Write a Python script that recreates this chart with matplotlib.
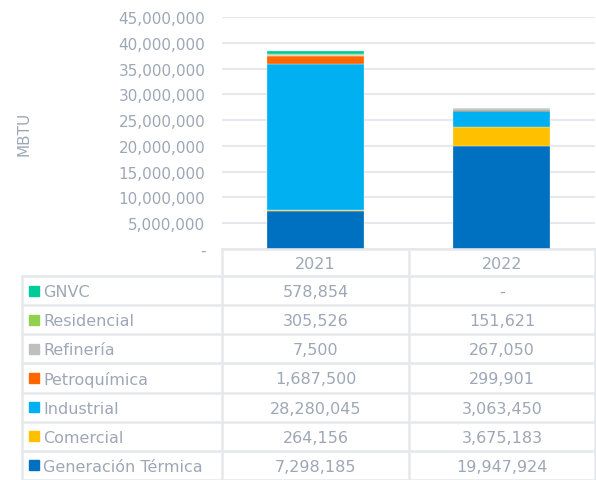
import matplotlib.pyplot as plt
from matplotlib.patches import Rectangle

years = ['2021', '2022']
sectors = ['Generación Térmica', 'Comercial', 'Industrial', 'Petroquímica',
           'Refinería', 'Residencial', 'GNVC']
values = {
    'Generación Térmica': [7298185, 19947924],
    'Comercial': [264156, 3675183],
    'Industrial': [28280045, 3063450],
    'Petroquímica': [1687500, 299901],
    'Refinería': [7500, 267050],
    'Residencial': [305526, 151621],
    'GNVC': [578854, 0],
}
colors = {
    'Generación Térmica': '#0070C0',
    'Comercial': '#FFC000',
    'Industrial': '#00B0F0',
    'Petroquímica': '#FF6600',
    'Refinería': '#BFBFBF',
    'Residencial': '#92D050',
    'GNVC': '#00CC99',
}

W, H = 596, 481
text_col = '#9EA7B6'
grid_col = '#E6E8EC'
fs = 11
plt.rcParams['font.family'] = ['DejaVu Sans']

fig = plt.figure(figsize=(W / 100, H / 100), dpi=100)

# chart area in pixel coordinates
x0, x1, ytop, ybot = 222, 595, 18, 250
ax = fig.add_axes([x0 / W, 1 - ybot / H, (x1 - x0) / W, (ybot - ytop) / H])
ax.set_xlim(-0.5, 1.5)
ax.set_ylim(0, 45000000)

bottoms = [0, 0]
for s in sectors:
    ax.bar(range(len(years)), values[s], bottom=bottoms, width=0.52,
           color=colors[s], edgecolor='white', linewidth=0.2, zorder=3)
    bottoms = [b + v for b, v in zip(bottoms, values[s])]

ticks = list(range(0, 45000001, 5000000))
ax.set_yticks(ticks)
ax.set_yticklabels(['-'] + [f'{t:,}' for t in ticks[1:]])
ax.tick_params(axis='y', length=0, pad=12, labelsize=fs, labelcolor=text_col)
ax.set_xticks([])
ax.yaxis.grid(True, color=grid_col, linewidth=1.5, zorder=0)
for sp in ax.spines.values():
    sp.set_visible(False)
ax.set_ylabel('MBTU', color=text_col, fontsize=fs)
ax.yaxis.set_label_coords((32 - x0) / (x1 - x0), 0.5)

# data table overlay
tb = fig.add_axes([0, 0, 1, 1])
tb.set_xlim(0, W)
tb.set_ylim(H, 0)
tb.axis('off')

col_x = [22, 222, 409, 595]
header_top, header_bot = 250, 277
row_h = (H - header_bot) / len(sectors)
lw = 1.8
tfs = 11.5

# header
tb.plot([col_x[1], col_x[3]], [header_top, header_top], color=grid_col, lw=lw)
for cx in col_x[1:]:
    tb.plot([cx, cx], [header_top, header_bot], color=grid_col, lw=lw)
for j, y in enumerate(years):
    tb.text((col_x[j + 1] + col_x[j + 2]) / 2, (header_top + header_bot) / 2 + 1, y,
            ha='center', va='center', color=text_col, fontsize=tfs)

rows = sectors[::-1]
for i, s in enumerate(rows):
    top = header_bot + i * row_h
    bot = top + row_h
    tb.plot([col_x[0], col_x[3]], [top, top], color=grid_col, lw=lw)
    for cx in col_x:
        tb.plot([cx, cx], [top, bot], color=grid_col, lw=lw)
    cy = (top + bot) / 2
    tb.add_patch(Rectangle((29, cy - 5), 10, 10, color=colors[s]))
    tb.text(43, cy + 1, s, ha='left', va='center', color=text_col, fontsize=tfs)
    for j in range(len(years)):
        v = values[s][j]
        label = f'{v:,}' if v else '-'
        tb.text((col_x[j + 1] + col_x[j + 2]) / 2, cy + 1, label,
                ha='center', va='center', color=text_col, fontsize=tfs)
tb.plot([col_x[0], col_x[3]], [H - 0.5, H - 0.5], color=grid_col, lw=lw)

fig.savefig('out.png', dpi=100)
